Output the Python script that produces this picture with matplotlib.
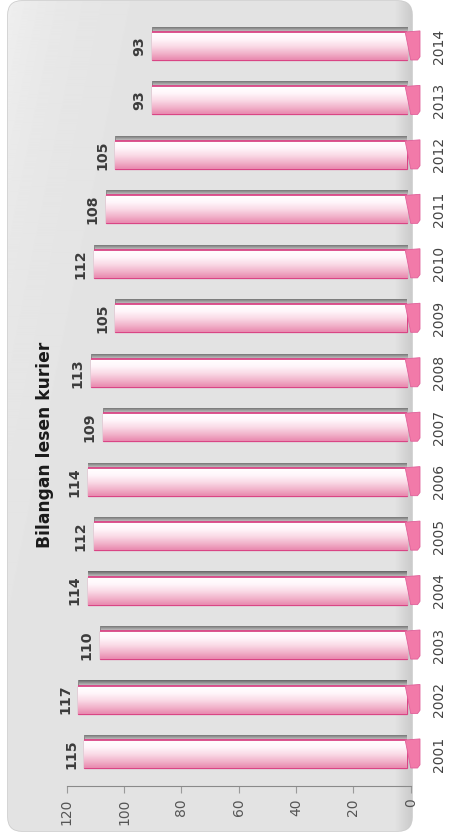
import numpy as np
import matplotlib
matplotlib.use("Agg")
import matplotlib.pyplot as plt
from matplotlib.patches import FancyBboxPatch, Polygon
from matplotlib.colors import LinearSegmentedColormap

plt.rcParams.update({"font.family": "DejaVu Sans"})

# data
years = ["2001", "2002", "2003", "2004", "2005", "2006", "2007",
         "2008", "2009", "2010", "2011", "2012", "2013", "2014"]
counts = [115, 117, 110, 114, 112, 114, 109, 113, 105, 112, 108, 105, 93, 93]
value_ticks = [0, 20, 40, 60, 80, 100, 120]
title = "Bilangan lesen kurier"

W, H = 452, 839
PINK, PINK_DARK, INK, MUTED = "#f27aa9", "#d94585", "#1a1a1a", "#555555"

fig = plt.figure(figsize=(W / 100, H / 100), dpi=100)

# full-figure axes in pixel coords for the panel and the title
deco = fig.add_axes([0, 0, 1, 1], zorder=0)
deco.set_xlim(0, W); deco.set_ylim(H, 0); deco.axis("off")
panel = FancyBboxPatch((8, 1), 404, 830, boxstyle="round,pad=0,rounding_size=14",
                       facecolor="#e3e3e3", edgecolor="#cdcdcd", lw=1.2)
deco.add_patch(panel)
# mostly flat grey, a bit lighter at the top-left, darker wall at the right
gx = np.linspace(8, 412, 404)
gy = np.linspace(1, 831, 300)[:, None]
img = 0.888 + 0.05 * np.exp(-((gx[None, :] - 8) / 60.0)) * np.exp(-(gy / 300.0))
wall = (gx > 396)
img = img - 0.09 * wall[None, :] * ((gx[None, :] - 396) / 16.0)
deco.imshow(img, extent=(8, 412, 831, 1), cmap="gray", vmin=0, vmax=1,
            aspect="auto", clip_path=panel, zorder=1)
deco.set_xlim(0, W); deco.set_ylim(H, 0)
deco.text(45, 445, title, rotation=90, ha="center", va="center",
          fontsize=12.3, fontweight="bold", color=INK)

# back axes: value scale, year labels
y_lo, y_hi = -0.582, 13.661
bottom = (H - 785.7) / H
height = (785.7 - 10) / H
ax = fig.add_axes([66.7 / W, bottom, (410.7 - 66.7) / W, height], zorder=1)
ax.patch.set_visible(False)
ax.set_xlim(120, 0)
ax.set_ylim(y_lo, y_hi)
for s in ("top", "left", "right"):
    ax.spines[s].set_visible(False)
ax.spines["bottom"].set_color("#8a8a8a")
ax.set_xticks(value_ticks)
ax.set_xticklabels([str(v) for v in value_ticks], rotation=90, fontsize=10, color=MUTED)
ax.tick_params(axis="x", length=5, color="#9a9a9a", pad=4)
idx = np.arange(len(years))
ax.set_yticks(idx)
ax.set_yticklabels(years, rotation=90, va="center", fontsize=10, color="#444444")
ax.tick_params(axis="y", left=False, right=False, labelleft=False,
               labelright=True, pad=12)

# front axes: the bars (front face slightly wider scale, as in the 3D original)
scale, zero_px = 3.07, 437.5
L, R = 7, 425
bx = fig.add_axes([L / W, bottom, (R - L) / W, height], zorder=2)
bx.set_xlim((zero_px - L) / scale, (zero_px - R) / scale)
bx.set_ylim(y_lo, y_hi)
bx.axis("off")

base = (zero_px - 407) / scale      # value where the face meets the cap
cap_end = (zero_px - 420) / scale
bh = 0.514
depth = 0.095
face_cmap = LinearSegmentedColormap.from_list(
    "face", ["#ffffff", "#fff6fa", "#fadbe7", "#f2b6cc", "#e98ab0"])
top_cmap = LinearSegmentedColormap.from_list("top", ["#c8c8c8", "#9a9a9a", "#666666"])

for i, v in enumerate(counts):
    # grey depth strip on top of the bar
    strip = bx.barh(i + bh / 2 + depth / 2, v - base, left=base, height=depth,
                    color="#8a8a8a", lw=0, zorder=2)[0]
    g = bx.imshow(np.linspace(0, 1, 20)[:, None], cmap=top_cmap, aspect="auto",
                  extent=(v - 0.3, base - 2.5, i + bh / 2, i + bh / 2 + depth),
                  origin="lower", zorder=2.1)
    g.set_clip_path(strip)
    # front face with white-to-pink gradient
    face = bx.barh(i, v - base, left=base, height=bh, color="white",
                   edgecolor=PINK_DARK, lw=0.9, zorder=3)[0]
    gi = bx.imshow(np.linspace(1, 0, 40)[:, None], cmap=face_cmap, aspect="auto",
                   extent=(v, base, i - bh / 2, i + bh / 2), origin="lower", zorder=3.1)
    gi.set_clip_path(face)
    bx.plot([v, base], [i + bh / 2, i + bh / 2], color=PINK_DARK, lw=1.3,
            zorder=3.2, solid_capstyle="butt")
    # pink cap at the base
    y0, y1 = i - bh / 2, i + bh / 2
    cap = Polygon([(base + 0.6, y1), (cap_end, y1 + 0.02), (cap_end, y0 + 0.06),
                   (cap_end + 0.8, y0), (base - 1.2, y0), (base - 0.6, y0 + bh * 0.35)],
                  closed=True, facecolor=PINK, edgecolor="#e0609a", lw=0.6,
                  zorder=3.3, clip_on=False)
    bx.add_patch(cap)
    # value label
    bx.annotate(str(v), (v, i), xytext=(-9.5, 0), textcoords="offset points",
                rotation=90, ha="center", va="center", fontsize=10.2,
                fontweight="bold", color="#3c3c3c", zorder=4)

fig.savefig("out.png", dpi=100)
